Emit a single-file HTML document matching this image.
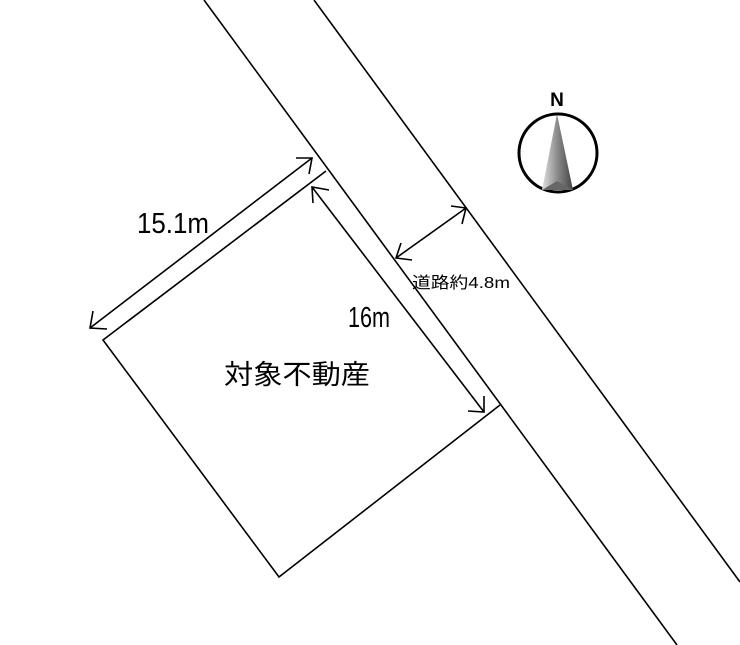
<!DOCTYPE html>
<html><head><meta charset="utf-8"><style>
html,body{margin:0;padding:0;background:#fff;}
svg{display:block}
text{font-family:"Liberation Sans Narrow","Liberation Sans","Noto Sans CJK JP",sans-serif;}
</style></head><body>
<svg width="740" height="645" viewBox="0 0 740 645" xmlns="http://www.w3.org/2000/svg">
<defs>
<linearGradient id="g1" x1="0" x2="1" y1="0" y2="0">
<stop offset="0" stop-color="#e0e0e0"/><stop offset="0.5" stop-color="#8a8a8a"/><stop offset="1" stop-color="#444"/>
</linearGradient>
</defs>
<g stroke="#000" stroke-width="1.6" fill="none">
<line x1="204" y1="0" x2="677" y2="645"/>
<line x1="314" y1="0" x2="740" y2="582"/>
<polyline points="326,171 103,340 279,577 500,405"/>
<line x1="90" y1="328" x2="312" y2="158"/>
<polyline points="296,158 312,158 309,174"/>
<polyline points="93,311 90,328 107,329"/>
<line x1="312" y1="187" x2="484" y2="412"/>
<polyline points="329,190 312,187 313,203"/>
<polyline points="468,411 484,412 484,396"/>
<line x1="396" y1="258" x2="466" y2="208"/>
<polyline points="451,206 466,208 462,224"/>
<polyline points="401,243 396,258 412,260"/>
</g>
<text x="137" y="233" font-size="29" textLength="72" lengthAdjust="spacingAndGlyphs">15.1m</text>
<text x="348" y="327" font-size="29" textLength="42" lengthAdjust="spacingAndGlyphs">16m</text>
<text x="224" y="384" font-size="27" textLength="146" lengthAdjust="spacingAndGlyphs">対象不動産</text>
<text x="412" y="288" font-size="16" textLength="98" lengthAdjust="spacingAndGlyphs">道路約4.8m</text>
<circle cx="558" cy="153" r="39" fill="none" stroke="#000" stroke-width="3"/>
<text x="557" y="106" font-size="19" font-weight="bold" text-anchor="middle" font-family="Liberation Sans, sans-serif">N</text>
<polygon points="557,114 542,190 573,190" fill="url(#g1)"/>
<polygon points="542,190 557,181 573,190" fill="#666"/>
</svg>
</body></html>
